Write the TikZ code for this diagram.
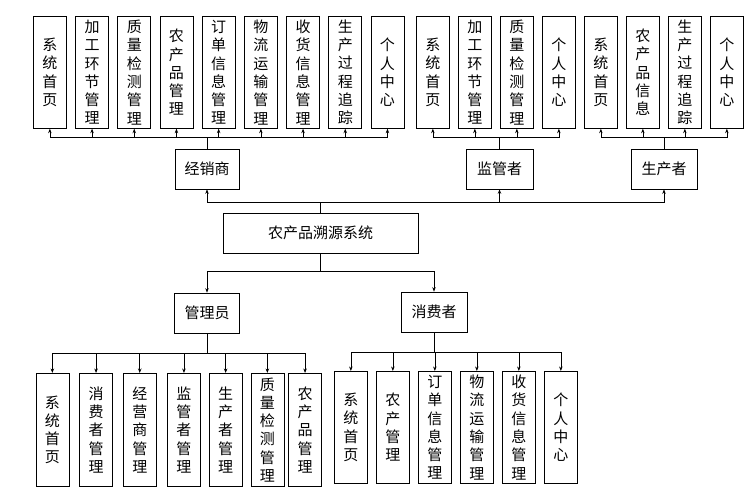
\documentclass[tikz,border=0pt]{standalone}
\usepackage{fontspec}
\newfontfamily\cjk{Noto Sans CJK SC}
\usepackage{tikz}
\usetikzlibrary{positioning, arrows.meta}

\begin{document}
\begin{tikzpicture}[
        x=1pt, y=1pt, >=Stealth,
        block/.style={rectangle, draw, line width=0.7pt, inner sep=0pt, align=center, font=\cjk\fontsize{15}{18.3}\selectfont},
        leaf/.style={block, minimum width=33pt, minimum height=112pt},
        role/.style={block, minimum width=65pt, minimum height=40pt},
        arrow/.style={->, line width=0.7pt, >={Stealth[length=4.5pt, width=3.5pt]}},
    ]
    \useasboundingbox (0,-496) rectangle (753,0);
    % roles
    \node[role, minimum width=64pt] (dealer) at (207,-169) {经销商};
    \node[role, minimum width=67pt] (regulator) at (499.5,-169) {监管者};
    \node[role, minimum width=66pt] (producer) at (664,-169) {生产者};
    \node[role, minimum width=195pt] (system) at (320.5,-233) {农产品溯源系统};
    \node[role] (admin) at (207,-313) {管理员};
    \node[role, minimum width=66pt] (consumer) at (434,-312) {消费者};
    % dealer modules
    \node[leaf, anchor=north west] (d1) at (33,-16) {系\\统\\首\\页};
    \node[leaf, right=8.5pt of d1] (d2) {加\\工\\环\\节\\管\\理};
    \node[leaf, right=8.5pt of d2] (d3) {质\\量\\检\\测\\管\\理};
    \node[leaf, right=8.5pt of d3] (d4) {农\\产\\品\\管\\理};
    \node[leaf, right=8.5pt of d4] (d5) {订\\单\\信\\息\\管\\理};
    \node[leaf, right=8.5pt of d5] (d6) {物\\流\\运\\输\\管\\理};
    \node[leaf, right=8.5pt of d6] (d7) {收\\货\\信\\息\\管\\理};
    \node[leaf, right=8.5pt of d7] (d8) {生\\产\\过\\程\\追\\踪};
    \node[leaf, right=8.5pt of d8] (d9) {个\\人\\中\\心};
    % regulator and producer modules
    \node[leaf, anchor=north west] (r1) at (416,-16) {系\\统\\首\\页};
    \node[leaf, right=8.3pt of r1] (r2) {加\\工\\环\\节\\管\\理};
    \node[leaf, right=8.3pt of r2] (r3) {质\\量\\检\\测\\管\\理};
    \node[leaf, right=8.3pt of r3] (r4) {个\\人\\中\\心};
    \node[leaf, right=8.3pt of r4] (p1) {系\\统\\首\\页};
    \node[leaf, right=8.3pt of p1] (p2) {农\\产\\品\\信\\息};
    \node[leaf, right=8.3pt of p2] (p3) {生\\产\\过\\程\\追\\踪};
    \node[leaf, right=8.3pt of p3] (p4) {个\\人\\中\\心};
    % admin modules
    \node[leaf, anchor=north west, minimum height=113pt] (a1) at (35.5,-373) {系\\统\\首\\页};
    \node[leaf, minimum height=113pt, right=10pt of a1] (a2) {消\\费\\者\\管\\理};
    \node[leaf, minimum height=113pt, right=10pt of a2] (a3) {经\\营\\商\\管\\理};
    \node[leaf, minimum height=113pt, right=10.5pt of a3] (a4) {监\\管\\者\\管\\理};
    \node[leaf, minimum height=113pt, right=8pt of a4] (a5) {生\\产\\者\\管\\理};
    \node[leaf, minimum height=113pt, right=8pt of a5] (a6) {质\\量\\检\\测\\管\\理};
    \node[leaf, minimum height=113pt, right=4pt of a6] (a7) {农\\产\\品\\管\\理};
    % consumer modules
    \node[leaf, anchor=north west] (c1) at (334,-371) {系\\统\\首\\页};
    \node[leaf, right=8.3pt of c1] (c2) {农\\产\\管\\理};
    \node[leaf, right=8.3pt of c2] (c3) {订\\单\\信\\息\\管\\理};
    \node[leaf, right=8.3pt of c3] (c4) {物\\流\\运\\输\\管\\理};
    \node[leaf, right=8.3pt of c4] (c5) {收\\货\\信\\息\\管\\理};
    \node[leaf, right=8.3pt of c5] (c6) {个\\人\\中\\心};
    % system to roles
    \draw[arrow] (system.north)--++(0,10)-|(dealer.south);
    \draw[arrow] (system.north)--++(0,10)-|(regulator.south);
    \draw[arrow] (system.north)--++(0,10)-|(producer.south);
    \draw[arrow] (system.south)--++(0,-18)-|(admin.north);
    \draw[arrow] (system.south)--++(0,-18)-|(consumer.north);
    % roles to modules
    \draw[arrow] (dealer.north)--++(0,11)-|(d1.south); \draw[arrow] (dealer.north)--++(0,11)-|(d2.south);
    \draw[arrow] (dealer.north)--++(0,11)-|(d3.south); \draw[arrow] (dealer.north)--++(0,11)-|(d4.south);
    \draw[arrow] (dealer.north)--++(0,11)-|(d5.south); \draw[arrow] (dealer.north)--++(0,11)-|(d6.south);
    \draw[arrow] (dealer.north)--++(0,11)-|(d7.south); \draw[arrow] (dealer.north)--++(0,11)-|(d8.south);
    \draw[arrow] (dealer.north)--++(0,11)-|(d9.south);
    \draw[arrow] (regulator.north)--++(0,11)-|(r1.south); \draw[arrow] (regulator.north)--++(0,11)-|(r2.south);
    \draw[arrow] (regulator.north)--++(0,11)-|(r3.south); \draw[arrow] (regulator.north)--++(0,11)-|(r4.south);
    \draw[arrow] (producer.north)--++(0,11)-|(p1.south); \draw[arrow] (producer.north)--++(0,11)-|(p2.south);
    \draw[arrow] (producer.north)--++(0,11)-|(p3.south); \draw[arrow] (producer.north)--++(0,11)-|(p4.south);
    \draw[arrow] (admin.south)--++(0,-20)-|(a1.north); \draw[arrow] (admin.south)--++(0,-20)-|(a2.north);
    \draw[arrow] (admin.south)--++(0,-20)-|(a3.north); \draw[arrow] (admin.south)--++(0,-20)-|(a4.north);
    \draw[arrow] (admin.south)--++(0,-20)-|(a5.north); \draw[arrow] (admin.south)--++(0,-20)-|(a6.north);
    \draw[arrow] (admin.south)--++(0,-20)-|(a7.north);
    \draw[arrow] (consumer.south)--++(0,-20)-|(c1.north); \draw[arrow] (consumer.south)--++(0,-20)-|(c2.north);
    \draw[arrow] (consumer.south)--++(0,-20)-|(c3.north); \draw[arrow] (consumer.south)--++(0,-20)-|(c4.north);
    \draw[arrow] (consumer.south)--++(0,-20)-|(c5.north); \draw[arrow] (consumer.south)--++(0,-20)-|(c6.north);
\end{tikzpicture}
\end{document}
